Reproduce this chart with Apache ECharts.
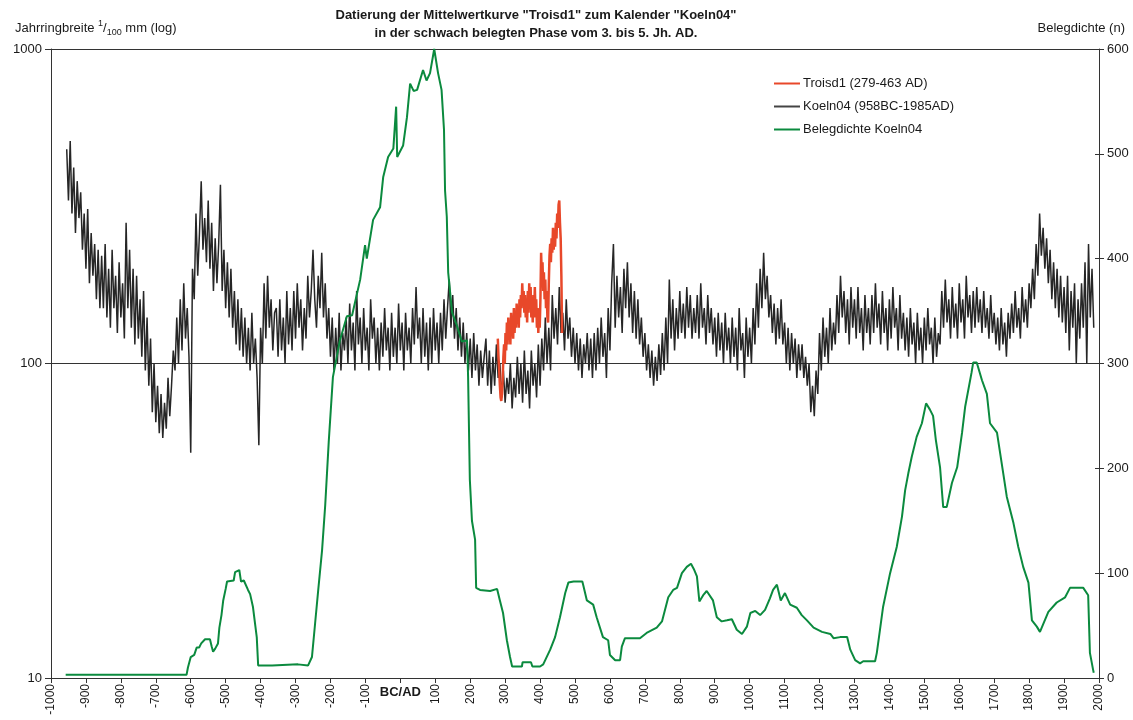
<!DOCTYPE html>
<html>
<head>
<meta charset="utf-8">
<script src="https://cdn.jsdelivr.net/npm/echarts@6/dist/echarts.min.js"></script>
<style>
  html, body { margin: 0; padding: 0; background: #fff; }
  #chart { width: 1133px; height: 720px; }
</style>
</head>
<body>
<div id="chart"></div>
<script>
// Koeln04 ring-width chronology (1/100 mm), one value every 5 years from 955 BC
const KOELN_START = -955;
const KOELN_STEP = 5;
const koeln04 = [
  480, 330, 510, 300, 420, 260, 380, 290, 350, 230, 300, 200, 310, 180, 260, 190, 240, 160, 230, 150,
  220, 150, 240, 140, 200, 130, 230, 150, 190, 125, 210, 140, 180, 120, 280, 150, 230, 130, 200, 115,
  190, 120, 160, 105, 170, 95, 140, 85, 120, 70, 100, 65, 85, 60, 80, 58, 75, 62, 90, 68,
  85, 110, 95, 140, 100, 160, 110, 180, 120, 150, 105, 52, 200, 160, 300, 190, 260, 380, 230, 290,
  210, 330, 200, 280, 170, 250, 180, 240, 370, 170, 230, 150, 210, 140, 200, 130, 170, 115, 160, 110,
  150, 105, 140, 100, 130, 95, 145, 100, 120, 90, 55, 130, 100, 180, 120, 190, 130, 160, 110, 145,
  150, 105, 160, 110, 140, 100, 170, 115, 150, 110, 170, 120, 180, 130, 160, 110, 150, 120, 190, 140,
  170, 230, 160, 130, 190, 150, 225, 140, 180, 120, 150, 105, 140, 95, 130, 100, 145, 95, 125, 110,
  140, 100, 155, 110, 135, 95, 170, 115, 140, 100, 150, 110, 130, 95, 160, 120, 140, 100, 130, 95,
  135, 105, 150, 110, 130, 95, 145, 105, 130, 100, 155, 110, 135, 95, 145, 110, 130, 100, 150, 115,
  175, 120, 140, 100, 150, 105, 135, 95, 140, 100, 150, 110, 135, 100, 145, 110, 160, 120, 150, 185,
  130, 165, 120, 150, 110, 140, 105, 135, 100, 125, 95, 120, 90, 125, 95, 115, 85, 110, 90, 105,
  120, 85, 110, 80, 105, 85, 115, 90, 100, 78, 95, 75, 90, 80, 100, 72, 90, 78, 105, 80,
  100, 75, 110, 80, 95, 72, 110, 85, 100, 78, 115, 85, 120, 95, 140, 100, 130, 95, 165, 120,
  150, 115, 175, 125, 145, 110, 160, 120, 140, 105, 130, 100, 125, 95, 120, 90, 115, 100, 125, 95,
  120, 90, 125, 95, 130, 100, 140, 105, 125, 90, 150, 110, 180, 240, 130, 190, 140, 175, 125, 200,
  150, 210, 140, 180, 125, 170, 120, 160, 115, 140, 105, 125, 95, 115, 90, 110, 85, 105, 88, 115,
  92, 125, 95, 140, 100, 185, 120, 160, 110, 150, 120, 170, 125, 155, 120, 175, 130, 165, 120, 150,
  125, 165, 120, 180, 130, 150, 115, 165, 125, 150, 115, 140, 105, 145, 110, 135, 100, 145, 110, 130,
  100, 140, 105, 130, 95, 150, 110, 125, 90, 140, 105, 130, 100, 150, 115, 180, 130, 200, 150, 225,
  160, 190, 140, 165, 125, 155, 115, 150, 120, 160, 115, 135, 100, 130, 95, 125, 100, 120, 90, 115,
  95, 115, 90, 105, 85, 100, 70, 85, 68, 95, 80, 125, 95, 140, 105, 130, 100, 150, 110, 135,
  115, 165, 125, 190, 140, 170, 125, 160, 115, 175, 130, 160, 120, 175, 125, 150, 110, 165, 125, 150,
  115, 165, 125, 180, 130, 155, 115, 170, 125, 150, 110, 160, 120, 175, 130, 150, 110, 165, 120, 145,
  110, 140, 105, 150, 115, 135, 100, 145, 110, 130, 100, 140, 110, 150, 115, 130, 100, 140, 105, 125,
  115, 170, 130, 185, 135, 160, 120, 175, 130, 155, 120, 180, 135, 160, 120, 190, 140, 165, 125, 170,
  130, 175, 135, 160, 125, 170, 130, 150, 120, 165, 125, 145, 115, 140, 110, 150, 115, 135, 105, 145,
  120, 155, 125, 170, 130, 150, 120, 175, 135, 160, 130, 180, 150, 200, 160, 240, 190, 300, 220, 270,
  200, 250, 180, 230, 160, 210, 150, 200, 140, 190, 135, 175, 125, 190, 110, 170, 130, 180, 100, 160,
  120, 180, 130, 210, 100, 240, 140, 200, 130
];

// Troisd1 mean curve (1/100 mm), one value every 2 years from AD 279
const TROISD_START = 279;
const TROISD_STEP = 2;
const troisd1 = [
  120, 105, 95, 85, 78, 76, 80, 90, 105, 115, 100, 125, 110, 135, 115, 140, 120, 135, 115, 145,
  125, 140, 120, 150, 125, 145, 130, 155, 135, 150, 130, 160, 140, 165, 150, 180, 155, 170, 145, 165,
  140, 160, 135, 170, 145, 180, 150, 175, 140, 160, 135, 165, 140, 175, 145, 160, 130, 150, 125, 145,
  130, 160, 225, 190, 210, 170, 195, 160, 185, 150, 170, 140, 135, 180, 220, 240, 210, 250, 225, 270,
  230, 260, 235, 280, 250, 300, 270, 320, 330, 280, 250, 190, 125
];

// Replication depth of Koeln04 (number of series)
const densityYears = [
  -958, -612, -608, -600, -590, -583, -576, -570, -559, -545, -540, -536, -530, -522, -518, -512, -507, -500, -496, -477,
  -473, -461, -456, -448, -436, -430, -422, -416, -411, -407, -367, -365, -293, -290, -264, -253, -244, -235, -224, -215,
  -205, -193, -173, -153, -138, -115, -101, -96, -78, -58, -49, -35, -20, -12, -9, 8, 19, 28, 38, 48,
  65, 75, 85, 97, 108, 118, 125, 128, 133, 137, 148, 162, 176, 191, 194, 199, 205, 214, 217, 228,
  257, 277, 285, 294, 305, 314, 320, 348, 350, 374, 378, 400, 409, 429, 443, 457, 472, 481, 496, 521,
  524, 534, 552, 562, 580, 595, 600, 615, 629, 634, 643, 686, 705, 734, 749, 767, 781, 792, 806, 820,
  832, 840, 849, 856, 867, 877, 895, 906, 920, 935, 949, 963, 978, 992, 1002, 1016, 1030, 1044, 1058, 1067,
  1078, 1089, 1101, 1116, 1135, 1149, 1164, 1183, 1207, 1231, 1240, 1259, 1279, 1288, 1302, 1316, 1325, 1345, 1359, 1364,
  1373, 1382, 1402, 1421, 1436, 1445, 1454, 1464, 1478, 1493, 1505, 1516, 1525, 1533, 1545, 1554, 1564, 1579, 1594, 1608,
  1617, 1635, 1640, 1650, 1665, 1679, 1688, 1708, 1726, 1736, 1755, 1769, 1783, 1798, 1808, 1822, 1831, 1855, 1879, 1903,
  1917, 1955, 1969, 1974, 1983, 1985
];
const densityValues = [
  3, 3, 10, 20, 22, 29, 29, 33, 37, 37, 30, 25, 28, 33, 48, 60, 74, 85, 92, 93,
  101, 103, 92, 93, 84, 80, 68, 52, 39, 12, 12, 13, 13, 12, 12, 20, 52, 84, 122, 165,
  225, 287, 322, 345, 346, 380, 413, 400, 437, 449, 478, 497, 505, 545, 497, 508, 535, 567, 560, 561,
  580, 570, 577, 600, 577, 561, 523, 465, 440, 387, 349, 336, 321, 322, 287, 189, 150, 132, 86, 84,
  83, 85, 74, 62, 36, 20, 11, 11, 15, 15, 11, 11, 13, 27, 39, 58, 81, 91, 92, 92,
  88, 74, 70, 58, 39, 36, 22, 17, 17, 30, 38, 38, 43, 48, 54, 77, 84, 86, 100, 106,
  109, 104, 97, 73, 79, 83, 74, 58, 54, 55, 56, 46, 42, 49, 62, 64, 60, 65, 76, 84,
  89, 74, 81, 70, 67, 60, 55, 48, 44, 42, 38, 39, 39, 27, 17, 14, 16, 16, 16, 24,
  46, 68, 100, 125, 154, 179, 195, 211, 230, 243, 262, 256, 250, 227, 201, 163, 163, 186, 201, 234,
  259, 291, 301, 301, 284, 271, 243, 234, 195, 173, 148, 125, 106, 91, 55, 49, 44, 63, 72, 77,
  86, 86, 79, 24, 8, 5
];

const koelnData = koeln04.map((v, i) => [KOELN_START + i * KOELN_STEP, v]);
const troisdData = troisd1.map((v, i) => [TROISD_START + i * TROISD_STEP, v]);
const densityData = densityYears.map((y, i) => [y, densityValues[i]]);

const FONT = 'Arial, "Liberation Sans", Helvetica, sans-serif';
const INK = '#1a1a1a';
const AXIS = '#333';

const chart = echarts.init(document.getElementById('chart'), null, { renderer: 'canvas' });

chart.setOption({
  animation: false,
  backgroundColor: '#fff',
  textStyle: { fontFamily: FONT, color: INK },
  title: [
    {
      text: 'Datierung der Mittelwertkurve "Troisd1" zum Kalender "Koeln04"\nin der schwach belegten Phase vom 3. bis 5. Jh. AD.',
      left: 531,
      top: 1,
      textAlign: 'center',
      textStyle: { fontFamily: FONT, fontSize: 13, fontWeight: 'bold', color: INK, lineHeight: 18 }
    },
    {
      text: 'Jahrringbreite {sup|1}/{sub|100} mm (log)',
      left: 10,
      top: 14,
      textStyle: {
        fontFamily: FONT, fontSize: 13, fontWeight: 'normal', color: INK, lineHeight: 18,
        rich: {
          sup: { fontFamily: FONT, fontSize: 9, color: INK, verticalAlign: 'top', lineHeight: 18 },
          sub: { fontFamily: FONT, fontSize: 9, color: INK, verticalAlign: 'bottom', lineHeight: 18 }
        }
      }
    },
    {
      text: 'Belegdichte (n)',
      right: 3,
      top: 14,
      textStyle: { fontFamily: FONT, fontSize: 13, fontWeight: 'normal', color: INK, lineHeight: 18 }
    }
  ],
  legend: {
    orient: 'vertical',
    left: 774,
    top: 77,
    padding: 0,
    icon: 'rect',
    itemWidth: 26,
    itemHeight: 2,
    itemGap: 10,
    data: ['Troisd1 (279-463 AD)', 'Koeln04 (958BC-1985AD)', 'Belegdichte Koeln04'],
    textStyle: { fontFamily: FONT, fontSize: 13, color: INK, padding: [0, 0, 0, -2] }
  },
  grid: { left: 51, right: 34, top: 49, bottom: 42, containLabel: false },
  xAxis: [
    {
      type: 'value',
      min: -1000,
      max: 2000,
      interval: 100,
      axisLine: { show: true, onZero: false, lineStyle: { color: AXIS, width: 1 } },
      axisTick: { show: true, length: 5, lineStyle: { color: AXIS } },
      axisLabel: {
        rotate: 90,
        margin: 6,
        fontFamily: FONT,
        fontSize: 12,
        color: INK,
        formatter: v => (v === 0 ? '' : String(v))
      },
      splitLine: { show: false }
    },
    {
      type: 'value',
      position: 'bottom',
      min: -1000,
      max: 2000,
      interval: 100,
      axisLine: { show: false, onZero: false },
      axisTick: { show: false },
      axisLabel: {
        margin: 8,
        fontFamily: FONT,
        fontSize: 13,
        fontWeight: 'bold',
        color: INK,
        formatter: v => (v === 0 ? 'BC/AD' : '')
      },
      splitLine: { show: false }
    }
  ],
  yAxis: [
    {
      type: 'log',
      logBase: 10,
      min: 10,
      max: 1000,
      position: 'left',
      axisLine: { show: true, onZero: false, lineStyle: { color: AXIS, width: 1 } },
      axisTick: { show: true, length: 6, lineStyle: { color: AXIS } },
      axisLabel: { margin: 9, fontFamily: FONT, fontSize: 13, color: INK, formatter: v => String(Math.round(v)) },
      splitLine: { show: true, lineStyle: { color: AXIS, width: 1 } },
      minorTick: { show: false },
      minorSplitLine: { show: false }
    },
    {
      type: 'value',
      min: 0,
      max: 600,
      interval: 100,
      position: 'right',
      axisLine: { show: true, onZero: false, lineStyle: { color: AXIS, width: 1 } },
      axisTick: { show: true, length: 5, lineStyle: { color: AXIS } },
      axisLabel: { margin: 8, fontFamily: FONT, fontSize: 13, color: INK },
      splitLine: { show: false }
    },
    {
      // inner half of the crossing ticks on the right axis
      type: 'value',
      min: 0,
      max: 600,
      interval: 100,
      position: 'right',
      offset: 0,
      axisLine: { show: false, onZero: false },
      axisTick: { show: true, inside: true, length: 4, lineStyle: { color: AXIS } },
      axisLabel: { show: false },
      splitLine: { show: false }
    }
  ],
  series: [
    {
      name: 'Koeln04 (958BC-1985AD)',
      type: 'line',
      xAxisIndex: 0,
      yAxisIndex: 0,
      data: koelnData,
      showSymbol: false,
      symbol: 'none',
      z: 2,
      itemStyle: { color: '#444444' },
      lineStyle: { color: '#262626', width: 1.5 }
    },
    {
      name: 'Troisd1 (279-463 AD)',
      type: 'line',
      xAxisIndex: 0,
      yAxisIndex: 0,
      data: troisdData,
      showSymbol: false,
      symbol: 'none',
      z: 3,
      itemStyle: { color: '#e8482a' },
      lineStyle: { color: '#e8482a', width: 2.5 }
    },
    {
      name: 'Belegdichte Koeln04',
      type: 'line',
      xAxisIndex: 0,
      yAxisIndex: 1,
      data: densityData,
      showSymbol: false,
      symbol: 'none',
      z: 4,
      itemStyle: { color: '#0b8a3e' },
      lineStyle: { color: '#0b8a3e', width: 2 }
    }
  ]
});
</script>
</body>
</html>
